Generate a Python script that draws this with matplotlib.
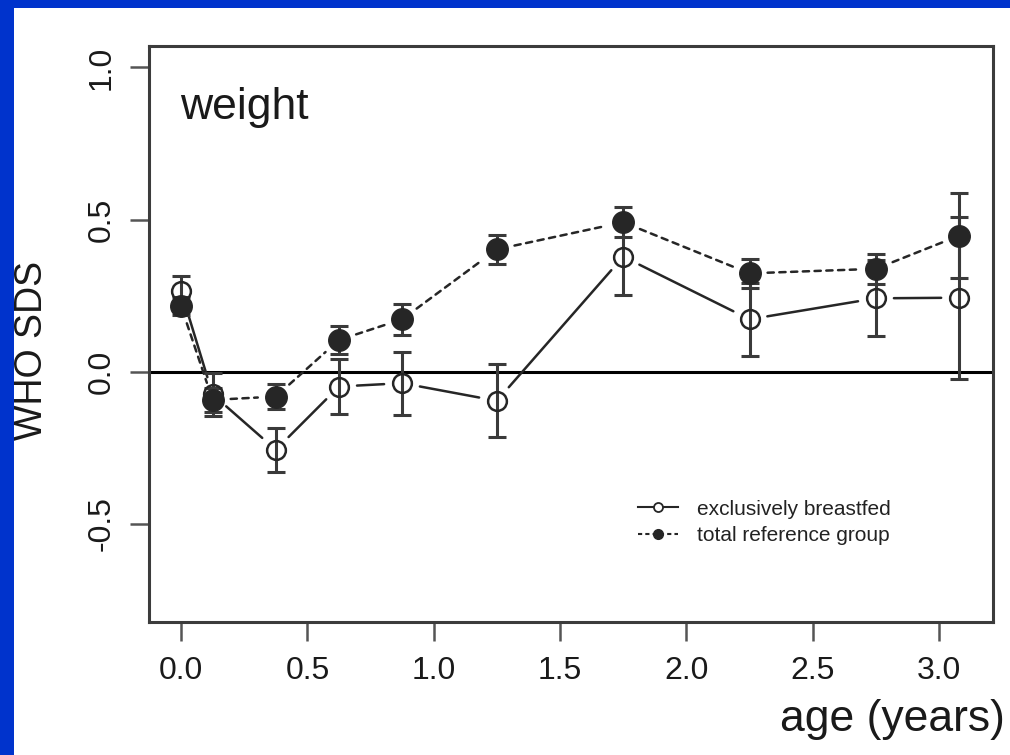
import matplotlib
matplotlib.use("Agg")
from matplotlib import pyplot as plt
from matplotlib.lines import Line2D
from matplotlib.patches import Rectangle

plt.rcParams['font.family'] = ['Liberation Sans', 'DejaVu Sans']

# age in years
age = [0, 0.125, 0.375, 0.625, 0.875, 1.25, 1.75, 2.25, 2.75, 3.08]

# exclusively breastfed (open circles)
eb_mean = [0.265, -0.075, -0.257, -0.049, -0.038, -0.096, 0.378, 0.172, 0.241, 0.243]
eb_err = [0.05, 0.07, 0.072, 0.09, 0.103, 0.12, 0.126, 0.12, 0.125, 0.266]

# total reference group (filled circles)
ref_mean = [0.215, -0.093, -0.082, 0.104, 0.172, 0.402, 0.491, 0.323, 0.338, 0.447]
ref_err = [0.03, 0.04, 0.04, 0.046, 0.05, 0.047, 0.05, 0.048, 0.05, 0.14]

x_ticks = [0.0, 0.5, 1.0, 1.5, 2.0, 2.5, 3.0]
y_ticks = [-0.5, 0.0, 0.5, 1.0]

ink = '#262626'

fig = plt.figure(figsize=(10.10, 7.55), dpi=100)
fig.patch.set_facecolor('#0033cc')
fig.add_artist(Rectangle((14 / 1010, 0), 1, 1 - 8 / 755, transform=fig.transFigure,
                         facecolor='white', edgecolor='none', zorder=-5))

ax = fig.add_axes([0.1475, 0.1766, 0.983 - 0.1475, 0.9385 - 0.1766])
ax.set_facecolor('white')

ax.axhline(0, color='black', lw=2.2, zorder=1)


def connect(xs, ys, style):
    # R type="b": segments with gaps around the points
    for i in range(len(xs) - 1):
        ax.annotate('', xy=(xs[i + 1], ys[i + 1]), xytext=(xs[i], ys[i]),
                    arrowprops=dict(arrowstyle='-', color=ink, lw=1.8,
                                    linestyle=style, shrinkA=13, shrinkB=13),
                    zorder=2)


connect(age, eb_mean, '-')
connect(age, ref_mean, (0, (2.5, 2.2)))

ax.errorbar(age, eb_mean, yerr=eb_err, fmt='none', ecolor='#3a3a3a',
            elinewidth=2.2, capsize=6.5, capthick=2.2, zorder=3)
ax.errorbar(age, ref_mean, yerr=ref_err, fmt='none', ecolor='#3a3a3a',
            elinewidth=2.2, capsize=6.5, capthick=2.2, zorder=3)

ax.plot(age, ref_mean, 'o', ms=15.5, color=ink, ls='none', zorder=4)
ax.plot(age, eb_mean, 'o', ms=13.5, mfc='none', mec=ink, mew=1.8, ls='none', zorder=5)

ax.set_xlim(-0.127, 3.213)
ax.set_ylim(-0.822, 1.069)
ax.set_xticks(x_ticks)
ax.set_xticklabels([f'{v:.1f}' for v in x_ticks])
ax.set_yticks(y_ticks)
ax.set_yticklabels([f'{v:.1f}' for v in y_ticks], rotation=90, va='center')

for s in ax.spines.values():
    s.set_color('#3c3c3c')
    s.set_linewidth(2.2)

ax.tick_params(axis='both', length=14, width=1.8, color='#555555',
               labelsize=23, labelcolor='#1a1a1a')
ax.tick_params(axis='x', pad=11)
ax.tick_params(axis='y', pad=9)

ax.text(0.037, 0.93, 'weight', transform=ax.transAxes, fontsize=32,
        color='#1a1a1a', ha='left', va='top')

fig.text(32 / 1010, 1 - 350 / 755, 'WHO SDS', rotation=90, fontsize=27,
         color='#1a1a1a', ha='center', va='center')
fig.text(1005 / 1010, 1 - 720 / 755, 'age (years)', fontsize=32,
         color='#1a1a1a', ha='right', va='center')

handles = [
    Line2D([], [], color=ink, lw=1.5, ls='-', marker='o', ms=6.5, mfc='white', mec=ink, mew=1.3),
    Line2D([], [], color=ink, lw=1.5, ls=(0, (2, 1.5)), marker='o', ms=7, mfc=ink, mec=ink),
]
ax.legend(handles, ['exclusively breastfed', 'total reference group'],
          loc='upper left', bbox_to_anchor=(0.58, 0.212), frameon=False,
          fontsize=15, handlelength=1.9, handletextpad=0.9, labelspacing=0.35,
          borderpad=0, borderaxespad=0, labelcolor='#222222')

fig.savefig('out.png', dpi=100, facecolor=fig.get_facecolor())
